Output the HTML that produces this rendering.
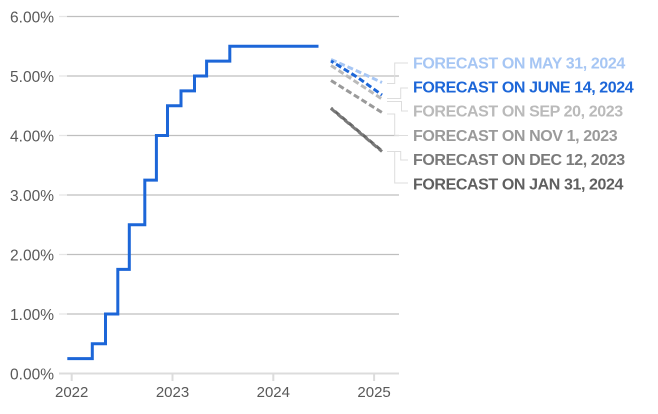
<!DOCTYPE html>
<html>
<head>
<meta charset="utf-8">
<style>
  html,body{margin:0;padding:0;background:#fff;}
  svg{display:block;}
  .yl{font-family:"Liberation Sans",sans-serif;font-size:15.5px;fill:#595959;text-anchor:end;}
  .xl{font-family:"Liberation Sans",sans-serif;font-size:15px;fill:#595959;text-anchor:middle;}
  .lb{font-family:"Liberation Sans",sans-serif;font-size:16px;font-weight:bold;letter-spacing:-0.4px;}
</style>
</head>
<body>
<svg width="658" height="414" viewBox="0 0 658 414" xmlns="http://www.w3.org/2000/svg">
  <!-- gridlines -->
  <g stroke="#bfbfbf" stroke-width="1.3">
    <line x1="67" y1="16.5" x2="399" y2="16.5"/>
    <line x1="67" y1="76" x2="399" y2="76"/>
    <line x1="67" y1="135.5" x2="399" y2="135.5"/>
    <line x1="67" y1="195" x2="399" y2="195"/>
    <line x1="67" y1="254.5" x2="399" y2="254.5"/>
    <line x1="67" y1="314" x2="399" y2="314"/>
  </g>
  <g stroke="#e6e6e6" stroke-width="1.3">
    <line x1="59" y1="16.5" x2="67" y2="16.5"/>
    <line x1="59" y1="76" x2="67" y2="76"/>
    <line x1="59" y1="135.5" x2="67" y2="135.5"/>
    <line x1="59" y1="195" x2="67" y2="195"/>
    <line x1="59" y1="254.5" x2="67" y2="254.5"/>
    <line x1="59" y1="314" x2="67" y2="314"/>
  </g>
  <line x1="59" y1="373.5" x2="399" y2="373.5" stroke="#dcdcdc" stroke-width="2"/>
  <!-- x ticks -->
  <g stroke="#dcdcdc" stroke-width="2">
    <line x1="71.7" y1="373.5" x2="71.7" y2="381"/>
    <line x1="172.5" y1="373.5" x2="172.5" y2="381"/>
    <line x1="273.3" y1="373.5" x2="273.3" y2="381"/>
    <line x1="374.1" y1="373.5" x2="374.1" y2="381"/>
  </g>
  <!-- y labels -->
  <text class="yl" x="54" y="22.5">6.00%</text>
  <text class="yl" x="54" y="82">5.00%</text>
  <text class="yl" x="54" y="141.5">4.00%</text>
  <text class="yl" x="54" y="201">3.00%</text>
  <text class="yl" x="54" y="260.5">2.00%</text>
  <text class="yl" x="54" y="320">1.00%</text>
  <text class="yl" x="54" y="379.5">0.00%</text>
  <!-- x labels -->
  <text class="xl" x="71.7" y="397">2022</text>
  <text class="xl" x="172.5" y="397">2023</text>
  <text class="xl" x="273.3" y="397">2024</text>
  <text class="xl" x="374.1" y="397">2025</text>

  <!-- main step line -->
  <path fill="none" stroke="#1c66d8" stroke-width="3" stroke-linejoin="miter"
    d="M67.3 358.6 H92.3 V343.75 H105.5 V314 H117.8 V269.4 H129.3 V224.75 H144.8 V180.1 H156.4 V135.5 H167.5 V105.75 H181 V90.9 H194.5 V76 H206.6 V61.1 H229.8 V46.25 H318.5"/>

  <!-- forecast lines -->
  <g fill="none" stroke-width="3" stroke-dasharray="6 3">
    <polyline stroke="#666666" points="331,108 382,151" stroke-dashoffset="4"/>
    <polyline stroke="#7a7a7a" points="331,108.5 382,151.5"/>
    <polyline stroke="#9a9a9a" points="331,80.5 382,112.5"/>
    <polyline stroke="#bababa" points="331,65.5 382,99"/>
    <polyline stroke="#a6c6f4" points="331,59.5 356,70.5 382,82.5"/>
    <polyline stroke="#1c66d8" points="331,61 357,77 382,95" stroke-dashoffset="3"/>
  </g>

  <!-- connectors -->
  <g fill="none" stroke="#dddddd" stroke-width="1">
    <polyline points="387,83.5 394.7,83.5 394.7,63 408,63"/>
    <polyline points="387,98.5 400.7,98.5 400.7,88 408,88"/>
    <polyline points="387,101.5 401.5,101.5 401.5,111 408,111"/>
    <polyline points="387,114 394.7,114 394.7,135.5 408,135.5"/>
    <polyline points="387,151.5 400.7,151.5 400.7,160 408,160"/>
    <polyline points="394.7,151.5 394.7,183 408,183"/>
  </g>

  <!-- labels -->
  <text class="lb" x="413" y="68.3" fill="#a6c6f4">FORECAST ON MAY 31, 2024</text>
  <text class="lb" x="413" y="92.5" fill="#1c66d8">FORECAST ON JUNE 14, 2024</text>
  <text class="lb" x="413" y="116.7" fill="#bababa">FORECAST ON SEP 20, 2023</text>
  <text class="lb" x="413" y="140.9" fill="#9a9a9a">FORECAST ON NOV 1, 2023</text>
  <text class="lb" x="413" y="165.1" fill="#7a7a7a">FORECAST ON DEC 12, 2023</text>
  <text class="lb" x="413" y="189.3" fill="#5f5f5f">FORECAST ON JAN 31, 2024</text>
</svg>
</body>
</html>
